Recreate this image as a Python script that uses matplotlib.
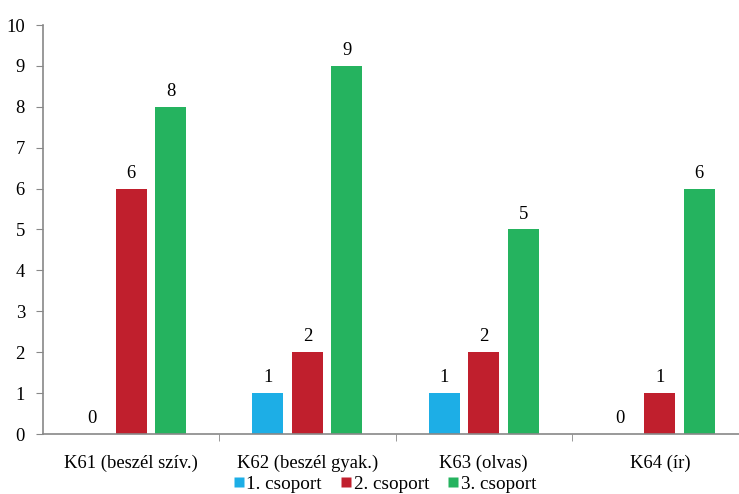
import matplotlib
matplotlib.use("Agg")
import matplotlib.pyplot as plt
from matplotlib.lines import Line2D
import numpy as np

categories = ["K61 (beszél szív.)", "K62 (beszél gyak.)", "K63 (olvas)", "K64 (ír)"]
series_names = ["1. csoport", "2. csoport", "3. csoport"]
group1 = [0, 1, 1, 0]
group2 = [6, 2, 2, 1]
group3 = [8, 9, 5, 6]
colors = ["#1DAEE6", "#C01F2D", "#25B35F"]

plt.rcParams["font.family"] = ["Liberation Serif", "DejaVu Serif"]

W, H = 739, 494
fig = plt.figure(figsize=(W / 100, H / 100), dpi=100)
left, right, bottom, top = 43, 739, 434, 25
ax = fig.add_axes([left / W, 1 - bottom / H, (right - left) / W, (bottom - top) / H])

x = np.arange(len(categories))
offset = 0.224
width = 0.176
for i, (vals, c) in enumerate(zip([group1, group2, group3], colors)):
    pos = x + (i - 1) * offset
    ax.bar(pos, vals, width=width, color=c, edgecolor="none", zorder=2)
    for p, v in zip(pos, vals):
        ax.annotate(str(v), (p, v), xytext=(0, 5), textcoords="offset points",
                    ha="center", va="bottom", fontsize=13.4)

ax.set_xlim(-0.5, 3.5 - 9 / 176)
ax.set_ylim(0, 10)
ax.set_yticks(range(0, 11))
ax.tick_params(axis="y", direction="out", length=5, color="#888888", labelsize=13.4, pad=8)
ax.set_xticks(x)
ax.set_xticklabels(categories, fontsize=13.4)
ax.tick_params(axis="x", which="major", length=0, pad=15)
ax.set_xticks([0.5, 1.5, 2.5], minor=True)
ax.tick_params(axis="x", which="minor", direction="out", length=5, color="#888888")

for s in ["top", "right"]:
    ax.spines[s].set_visible(False)
for s in ["left", "bottom"]:
    ax.spines[s].set_color("#888888")
    ax.spines[s].set_linewidth(1.2)

handles = [Line2D([], [], marker="s", linestyle="none", markersize=7,
                  markerfacecolor=c, markeredgecolor="none") for c in colors]
fig.legend(handles, series_names, loc="center", bbox_to_anchor=(384 / W, 1 - 484 / H),
           ncol=3, frameon=False, fontsize=13.8, handletextpad=0.05, columnspacing=0.9,
           handlelength=0.7)

fig.savefig("out.png", dpi=100)
